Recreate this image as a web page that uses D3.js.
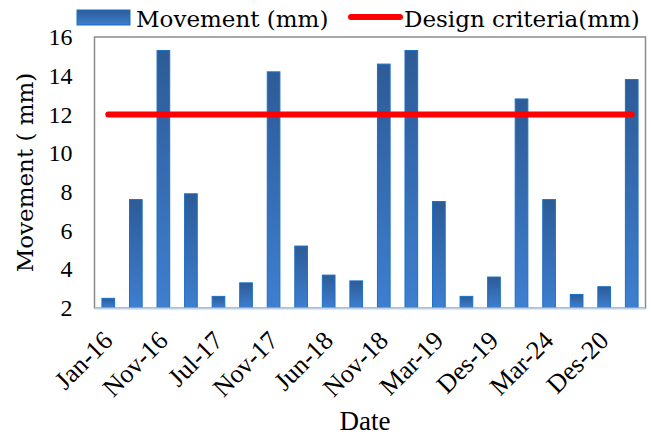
<!DOCTYPE html>
<html>
<head>
<meta charset="utf-8">
<script src="https://cdn.jsdelivr.net/npm/d3@7"></script>
<style>
  body { margin: 0; background: #fff; }
  svg { display: block; }
</style>
</head>
<body>
<svg id="chart"></svg>
<script>
// readings, one bar per survey
let movement = [2.5, 7.6, 15.3, 7.9, 2.6, 3.3, 14.2, 5.2, 3.7, 3.4, 14.6, 15.3, 7.5, 2.6, 3.6, 12.8, 7.6, 2.7, 3.1, 13.8];
let criteria = 12;
// only every other survey gets a date label
let dateLabels = ["Jan-16", "Nov-16", "Jul-17", "Nov-17", "Jun-18", "Nov-18", "Mar-19", "Des-19", "Mar-24", "Des-20"];
let yTicks = [2, 4, 6, 8, 10, 12, 14, 16];

let w = 651, h = 436;
let plotLeft = 94.5, plotRight = 645.5, plotTop = 37, plotBottom = 308;
let serif = "'DejaVu Serif', serif";
let times = "'Liberation Serif', 'Times New Roman', serif";

let svg = d3.select('#chart').attr('width', w).attr('height', h);

let defs = svg.append('defs');
let grad = defs.append('linearGradient')
    .attr('id', 'barFill')
    .attr('x1', 0).attr('y1', 0).attr('x2', 0).attr('y2', 1);
grad.append('stop').attr('offset', '0%').attr('stop-color', '#2d5b97');
grad.append('stop').attr('offset', '100%').attr('stop-color', '#3e7fd0');

let xScale = d3.scaleBand()
    .domain(d3.range(movement.length))
    .range([plotLeft, plotRight])
    .paddingInner(0.54)
    .paddingOuter(0.27);

let yScale = d3.scaleLinear()
    .domain([2, 16])
    .range([plotBottom, plotTop]);

// plot frame
svg.append('rect')
    .attr('x', plotLeft).attr('y', plotTop)
    .attr('width', plotRight - plotLeft).attr('height', plotBottom - plotTop)
    .attr('fill', 'none')
    .attr('stroke', '#8c8c8c')
    .attr('stroke-width', 1.5);

// bars
svg.selectAll('rect.bar')
    .data(movement)
    .enter()
    .append('rect')
    .attr('class', 'bar')
    .attr('x', (d, i) => xScale(i))
    .attr('y', d => yScale(d))
    .attr('width', xScale.bandwidth())
    .attr('height', d => plotBottom - yScale(d))
    .attr('fill', 'url(#barFill)')
    .attr('stroke', '#1b70c4')
    .attr('stroke-width', 1);

// bottom axis line
svg.append('line')
    .attr('x1', plotLeft).attr('x2', plotRight)
    .attr('y1', plotBottom + 0.5).attr('y2', plotBottom + 0.5)
    .attr('stroke', '#bcd0e8')
    .attr('stroke-width', 2);

// design criteria line
let half = xScale.bandwidth() / 2;
svg.append('line')
    .attr('x1', xScale(0) + half)
    .attr('x2', xScale(movement.length - 1) + half)
    .attr('y1', yScale(criteria))
    .attr('y2', yScale(criteria))
    .attr('stroke', '#ff0000')
    .attr('stroke-width', 6)
    .attr('stroke-linecap', 'round');

// y axis
let yAxis = d3.axisLeft(yScale)
    .tickValues(yTicks)
    .tickSize(0)
    .tickPadding(22);
let yG = svg.append('g')
    .attr('transform', 'translate(' + plotLeft + ',0)')
    .call(yAxis);
yG.select('.domain').remove();
yG.selectAll('text')
    .attr('font-family', times)
    .attr('font-size', 24)
    .attr('fill', '#000');

// x axis, labels on every other bar
let xAxis = d3.axisBottom(xScale)
    .tickValues(dateLabels.map((d, i) => i * 2))
    .tickFormat(i => dateLabels[i / 2])
    .tickSize(0);
let xG = svg.append('g')
    .attr('transform', 'translate(0,' + plotBottom + ')')
    .call(xAxis);
xG.select('.domain').remove();
xG.selectAll('text')
    .attr('font-family', times)
    .attr('font-size', 26)
    .attr('fill', '#000')
    .attr('text-anchor', 'end')
    .attr('dy', 0)
    .attr('y', 0)
    .attr('transform', 'translate(6,34) rotate(-45)');

// axis titles
svg.append('text')
    .attr('transform', 'translate(33,' + ((plotTop + plotBottom) / 2) + ') rotate(-90)')
    .attr('text-anchor', 'middle')
    .attr('font-family', serif)
    .attr('font-size', 23)
    .text('Movement ( mm)');

svg.append('text')
    .attr('x', 365)
    .attr('y', 430)
    .attr('text-anchor', 'middle')
    .attr('font-family', times)
    .attr('font-size', 27)
    .text('Date');

// legend
let legend = svg.append('g');
legend.append('rect')
    .attr('x', 77).attr('y', 10)
    .attr('width', 53).attr('height', 15)
    .attr('fill', 'url(#barFill)')
    .attr('stroke', '#1b70c4');
legend.append('text')
    .attr('x', 136).attr('y', 27)
    .attr('font-family', serif)
    .attr('font-size', 23)
    .text('Movement (mm)');
legend.append('line')
    .attr('x1', 351).attr('x2', 400)
    .attr('y1', 17).attr('y2', 17)
    .attr('stroke', '#ff0000')
    .attr('stroke-width', 6)
    .attr('stroke-linecap', 'round');
legend.append('text')
    .attr('x', 404).attr('y', 27)
    .attr('font-family', serif)
    .attr('font-size', 23)
    .text('Design criteria(mm)');
</script>
</body>
</html>
